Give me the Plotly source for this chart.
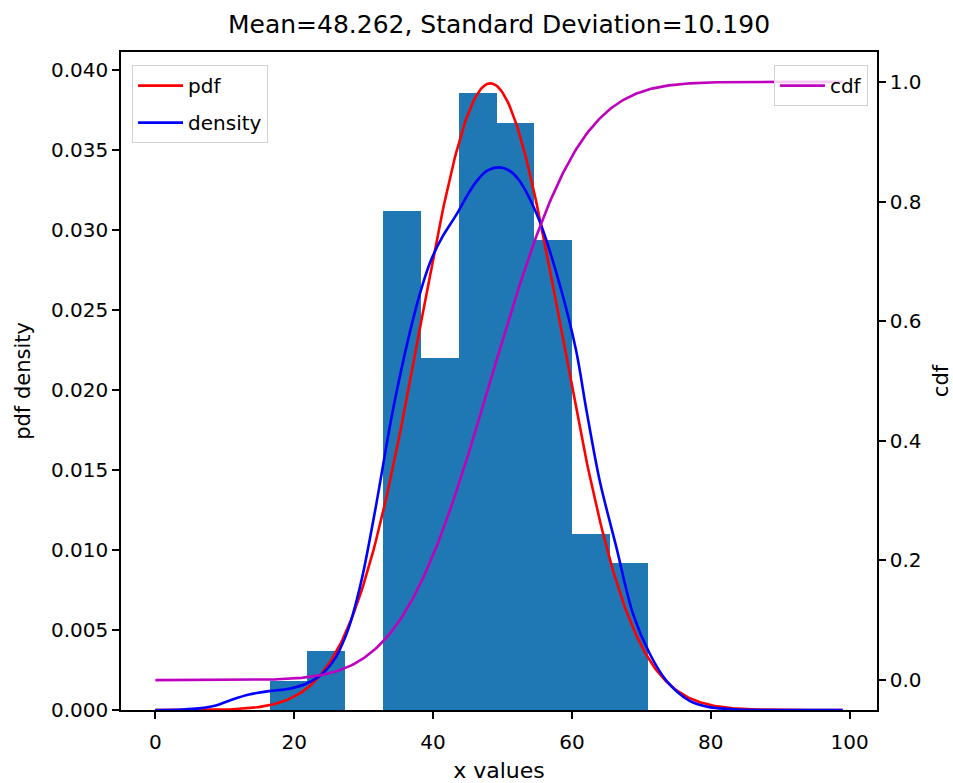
import math
import plotly.graph_objects as go

# ---- data ----
mean = 48.262
std = 10.190
n_samples = 100
bin_edges = [16.45, 21.90, 27.35, 32.80, 38.25, 43.70, 49.15, 54.60, 60.05, 65.50, 70.95]
bin_counts = [1, 2, 0, 17, 12, 21, 20, 16, 6, 5]

kde_x = [0, 4, 6.3, 8.7, 11.1, 13.5, 16.4, 19.3, 21.7, 24.1, 26.0, 27.4, 28.2, 29.8, 31.8,
         33.0, 34.2, 36.6, 38.3, 39.7, 41.4, 43.3, 45.0, 46.2, 47.8, 49.6, 51.0, 52.4, 55.3,
         58.2, 60.6, 62.1, 64.0, 66.4, 68.8, 71.2, 73.6, 76.9, 79.8, 84, 90, 99]
kde_y = [0.0, 0.00003, 0.0001, 0.00028, 0.00066, 0.00097, 0.00118, 0.00133, 0.00164, 0.00228,
         0.0033, 0.0046, 0.0056, 0.0083, 0.0128, 0.0158, 0.0187, 0.0235, 0.0263, 0.0281,
         0.0296, 0.0309, 0.0322, 0.0330, 0.0337, 0.0339, 0.0337, 0.0331, 0.0306, 0.02665,
         0.02247, 0.01872, 0.01434, 0.01018, 0.00601, 0.00353, 0.00184, 0.00059, 0.00018,
         0.00003, 0.0, 0.0]

x_min, x_max = 0, 99
left_ticks = [0.000, 0.005, 0.010, 0.015, 0.020, 0.025, 0.030, 0.035, 0.040]
right_ticks = [0.0, 0.2, 0.4, 0.6, 0.8, 1.0]
x_ticks = [0, 20, 40, 60, 80, 100]

# ---- derived ----
bin_width = [bin_edges[i + 1] - bin_edges[i] for i in range(len(bin_counts))]
bin_centers = [(bin_edges[i] + bin_edges[i + 1]) / 2 for i in range(len(bin_counts))]
bin_density = [c / (n_samples * w) for c, w in zip(bin_counts, bin_width)]

curve_x = [x_min + i * (x_max - x_min) / 400 for i in range(401)]
pdf_y = [math.exp(-0.5 * ((x - mean) / std) ** 2) / (std * math.sqrt(2 * math.pi)) for x in curve_x]
cdf_y = [0.5 * (1 + math.erf((x - mean) / (std * math.sqrt(2)))) for x in curve_x]

FONT = "DejaVu Sans"

fig = go.Figure()
fig.add_trace(go.Bar(x=bin_centers, y=bin_density, width=bin_width,
                     marker=dict(color="#1f77b4", line=dict(width=0)),
                     showlegend=False, hoverinfo="skip"))
fig.add_trace(go.Scatter(x=curve_x, y=pdf_y, mode="lines", name="pdf",
                         line=dict(color="#ff0000", width=2.6), legendgroup="a"))
fig.add_trace(go.Scatter(x=kde_x, y=kde_y, mode="lines", name="density",
                         line=dict(color="#0000ff", width=2.6, shape="spline", smoothing=0.9),
                         legendgroup="b"))
fig.add_trace(go.Scatter(x=curve_x, y=cdf_y, mode="lines", name="cdf", yaxis="y2",
                         line=dict(color="#bf00bf", width=2.6), legend="legend2"))

axis_common = dict(showline=True, linecolor="black", linewidth=1.5, ticks="outside",
                   ticklen=7, tickwidth=1.5, tickcolor="black", showgrid=False,
                   zeroline=False, automargin=False,
                   tickfont=dict(family=FONT, size=20, color="black"))

fig.update_layout(
    width=953, height=783,
    margin=dict(l=121, r=76, t=52, b=73),
    paper_bgcolor="white", plot_bgcolor="white",
    title=dict(text="Mean=48.262, Standard Deviation=10.190", x=0.5, xref="paper",
               xanchor="center", y=1 - 24 / 783, yref="container", yanchor="middle",
               font=dict(family=FONT, size=25, color="black")),
    xaxis=dict(**axis_common, range=[-4.95, 103.95], tickvals=x_ticks, mirror=True,
               ticklabelstandoff=6,
               title=dict(text="x values", font=dict(family=FONT, size=22, color="black"), standoff=14)),
    yaxis=dict(**axis_common, range=[0, 0.04111], tickvals=left_ticks, tickformat=".3f",
               title=dict(text="pdf density", font=dict(family=FONT, size=21, color="black"))),
    yaxis2=dict(**axis_common, range=[-0.05, 1.05], tickvals=right_ticks, tickformat=".1f",
                overlaying="y", side="right",
                title=dict(text="cdf", font=dict(family=FONT, size=21, color="black"))),
    showlegend=True,
    legend=dict(x=0.0146, y=0.98, xanchor="left", yanchor="top", bgcolor="rgba(255,255,255,0.8)",
                bordercolor="#d0d0d0", borderwidth=1, tracegroupgap=8, itemwidth=45,
                font=dict(family=FONT, size=20, color="black")),
    legend2=dict(x=0.988, y=0.98, xanchor="right", yanchor="top", bgcolor="rgba(255,255,255,0.8)",
                 bordercolor="#d0d0d0", borderwidth=1, itemwidth=45,
                 font=dict(family=FONT, size=20, color="black")),
    bargap=0,
)

fig.write_html("out.html")
